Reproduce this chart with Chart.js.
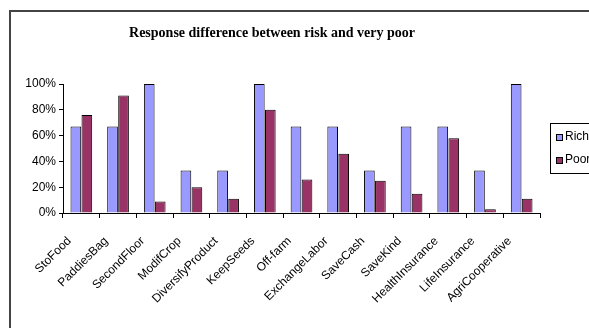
<!DOCTYPE html>
<html>
<head>
<meta charset="utf-8">
<script src="https://cdn.jsdelivr.net/npm/chart.js@4/dist/chart.umd.min.js"></script>
<style>
  html, body { margin: 0; padding: 0; background: #fff; overflow: hidden; }
  #wrap { width: 620px; height: 328px; }
</style>
</head>
<body>
<div id="wrap"><canvas id="riskChart" width="620" height="328"></canvas></div>
<script>
const categories = ['StoFood', 'PaddiesBag', 'SecondFloor', 'ModifCrop', 'DiversifyProduct', 'KeepSeeds',
    'Off-farm', 'ExchangeLabor', 'SaveCash', 'SaveKind', 'HealthInsurance', 'LifeInsurance', 'AgriCooperative'];
const richValues = [67, 67, 100, 33, 33, 100, 67, 67, 33, 67, 67, 33, 100];
const poorValues = [76, 91, 9, 20, 11, 80, 26, 46, 25, 15, 58, 3, 11];
const yTicks = [0, 20, 40, 60, 80, 100];

// frame, title and boxed legend drawn like the old spreadsheet chart
const decorPlugin = {
    id: 'decor',
    afterDraw(chart) {
        const ctx = chart.ctx;
        ctx.save();
        ctx.strokeStyle = '#444';
        ctx.lineWidth = 2;
        ctx.strokeRect(10, 11, 700, 400);

        ctx.fillStyle = '#000';
        ctx.font = 'bold 14px "Liberation Serif"';
        ctx.textAlign = 'center';
        ctx.textBaseline = 'middle';
        ctx.fillText('Response difference between risk and very poor', 272, 33);

        ctx.lineWidth = 1;
        ctx.strokeStyle = '#000';
        ctx.strokeRect(550.5, 123.5, 60, 50);
        ctx.font = '12px "Liberation Sans"';
        ctx.textAlign = 'left';
        chart.data.datasets.forEach((ds, i) => {
            const y = 137 + i * 23;
            ctx.fillStyle = ds.backgroundColor;
            ctx.fillRect(556, y - 3, 6, 6);
            ctx.strokeRect(556.5, y - 2.5, 6, 6);
            ctx.fillStyle = '#000';
            ctx.fillText(ds.label, 565, y);
        });
        ctx.restore();
    }
};

new Chart(document.getElementById('riskChart').getContext('2d'), {
    type: 'bar',
    data: {
        labels: categories,
        datasets: [
            { label: 'Rich', data: richValues, backgroundColor: '#9999FF', borderColor: '#000', borderWidth: 1 },
            { label: 'Poor', data: poorValues, backgroundColor: '#993366', borderColor: '#000', borderWidth: 1 }
        ]
    },
    options: {
        responsive: false,
        animation: false,
        layout: { padding: { left: 10, top: 84, right: 80, bottom: 0 } },
        plugins: {
            legend: { display: false },
            title: { display: false },
            tooltip: { enabled: false }
        },
        datasets: { bar: { categoryPercentage: 0.6, barPercentage: 0.97 } },
        scales: {
            x: {
                afterFit(scale) { scale.height = 115; },
                grid: { display: true, drawOnChartArea: false, offset: true, color: '#000', tickLength: 5 },
                border: { color: '#000', width: 1 },
                ticks: {
                    color: '#000', font: { family: 'Liberation Sans', size: 12 },
                    maxRotation: 45, minRotation: 45, autoSkip: false, padding: 16, labelOffset: -12
                }
            },
            y: {
                min: 0, max: 100,
                afterFit(scale) { scale.width = 53; },
                afterBuildTicks(scale) { scale.ticks = yTicks.map(v => ({ value: v })); },
                grid: { display: true, drawOnChartArea: false, color: '#000', tickLength: 4 },
                border: { color: '#000', width: 1 },
                ticks: {
                    color: '#000', font: { family: 'Liberation Sans', size: 12 }, padding: 3,
                    callback: v => v + '%'
                }
            }
        }
    },
    plugins: [decorPlugin]
});
</script>
</body>
</html>
